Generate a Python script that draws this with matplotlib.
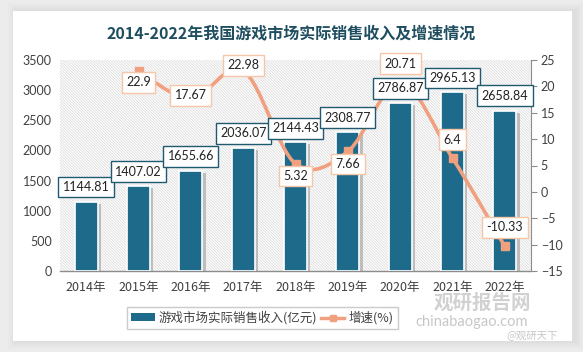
import matplotlib
matplotlib.use("Agg")
import matplotlib.pyplot as plt
import matplotlib.patheffects as pe
from matplotlib.path import Path
from matplotlib.patches import PathPatch, Rectangle
from matplotlib.lines import Line2D
import numpy as np

plt.rcParams['font.family'] = ['Lato', 'Noto Sans CJK SC', 'DejaVu Sans']
plt.rcParams['hatch.linewidth'] = 0.5
plt.rcParams['hatch.color'] = '#d6d6d6'

years = ['2014年', '2015年', '2016年', '2017年', '2018年', '2019年', '2020年', '2021年', '2022年']
revenue = [1144.81, 1407.02, 1655.66, 2036.07, 2144.43, 2308.77, 2786.87, 2965.13, 2658.84]
growth_years = ['2015年', '2016年', '2017年', '2018年', '2019年', '2020年', '2021年', '2022年']
growth = [22.9, 17.67, 22.98, 5.32, 7.66, 20.71, 6.4, -10.33]

title = '2014-2022年我国游戏市场实际销售收入及增速情况'
bar_name = '游戏市场实际销售收入(亿元)'
line_name = '增速(%)'

bar_color = '#1d6a8b'
line_color = '#f0a07e'
text_color = '#404040'

W, H = 583, 352
fig = plt.figure(figsize=(W / 100, H / 100), dpi=100)
fig.patch.set_facecolor('#ececec')

# white panel with soft shadow
for i, a in enumerate([0.25, 0.35, 0.5, 0.7]):
    d = (4 - i) * 2
    fig.patches.append(Rectangle(((13 - d + 3) / W, (11 - d) / H), (559 + 2 * d) / W, (330 + 2 * d) / H,
                                 transform=fig.transFigure, facecolor='#d9d9d9', edgecolor='none',
                                 alpha=a * 0.5, zorder=0))
fig.patches.append(Rectangle((13 / W, 11 / H), 559 / W, 330 / H, transform=fig.transFigure,
                             facecolor='white', edgecolor='none', zorder=0.5))

ax = fig.add_axes([60 / W, 1 - 271 / H, (531 - 60) / W, (271 - 60) / H])
ax.set_zorder(1)
ax.patch.set_facecolor('white')
ax.patch.set_hatch('\\' * 12)
ax.patch.set_edgecolor('#d6d6d6')
ax.patch.set_linewidth(0)

x = np.arange(len(years))
bars = ax.bar(x, revenue, width=0.44, color=bar_color, edgecolor='white', linewidth=1.2, zorder=3)
for b in bars:
    b.set_path_effects([pe.SimplePatchShadow(offset=(2.5, -1.5), shadow_rgbFace='#808080', alpha=0.45),
                        pe.Normal()])

ax.set_xlim(-0.5, len(years) - 0.5)
ax.set_ylim(0, 3500)
ax.set_yticks(np.arange(0, 3501, 500))
ax.set_xticks(x)
ax.set_xticklabels(years, fontsize=9, color=text_color, family=['Noto Sans CJK SC'])
ax.tick_params(axis='x', length=0, pad=7)
ax.tick_params(axis='y', length=0, labelsize=9, labelcolor=text_color, pad=6)
for s in ['top', 'left', 'right']:
    ax.spines[s].set_visible(False)
ax.spines['bottom'].set_color('#8c8c8c')
ax.spines['bottom'].set_linewidth(1)

ax2 = ax.twinx()
ax2.set_ylim(-15, 25)
ax2.set_yticks(np.arange(-15, 26, 5))
ax2.tick_params(axis='y', length=4, width=0.8, color='#8c8c8c', labelsize=9, labelcolor=text_color, pad=3)
for s in ['top', 'left', 'bottom']:
    ax2.spines[s].set_visible(False)
ax2.spines['right'].set_color('#8c8c8c')

# smoothed growth line (Catmull-Rom bezier through data points)
gx = np.array([years.index(y) for y in growth_years], dtype=float)
gy = np.array(growth, dtype=float)
pts = np.column_stack([gx, gy])
verts = [pts[0]]
codes = [Path.MOVETO]
n = len(pts)
for i in range(n - 1):
    p0 = pts[i - 1] if i > 0 else pts[i]
    p1 = pts[i]
    p2 = pts[i + 1]
    p3 = pts[i + 2] if i + 2 < n else pts[i + 1]
    c1 = p1 + (p2 - p0) / 6
    c2 = p2 - (p3 - p1) / 6
    verts += [c1, c2, p2]
    codes += [Path.CURVE4] * 3
ax2.add_patch(PathPatch(Path(verts, codes), facecolor='none', edgecolor=line_color, lw=2.6,
                        zorder=4, capstyle='round'))
ax2.plot(gx, gy, linestyle='none', marker='s', markersize=6, color=line_color, zorder=5)

# growth labels (right axis units)
growth_label_pos = [(1, 20.8), (2, 18.3), (3, 24.0), (4, 3.0), (5, 5.3), (6, 24.3), (7, 9.9), (8, -6.7)]
for (xi, yi), v in zip(growth_label_pos, growth):
    ax2.text(xi, yi, f'{v:g}', ha='center', va='center', fontsize=9, color='#222222', zorder=11,
             bbox=dict(boxstyle='square,pad=0.35', facecolor='white', edgecolor='#f5c6a8', linewidth=1))

# bar labels (drawn on top axes so the line passes beneath them)
bar_label_pos = [(0, 1395), (1, 1650), (2, 1905), (3, 2285), (4, 2365), (5, 2540), (6, 3030), (7, 3200), (8, 2905)]
for (xi, yi), v in zip(bar_label_pos, revenue):
    ax2.text(xi, yi, f'{v:.2f}', transform=ax.transData, ha='center', va='center', fontsize=9,
             color='#222222', zorder=10,
             bbox=dict(boxstyle='square,pad=0.35', facecolor='white', edgecolor='#1f5a70', linewidth=1))

fig.text(0.5, 1 - 33 / H, title, ha='center', va='center', fontsize=11.5, fontweight='bold',
         color='#1f4e60', family=['Noto Sans CJK SC'])

# legend
handles = [Rectangle((0, 0), 1, 1, facecolor=bar_color, edgecolor='none'),
           Line2D([0], [0], color=line_color, lw=2.5, marker='s', markersize=5)]
leg = fig.legend(handles, [bar_name, line_name], loc='center', bbox_to_anchor=(262 / W, 1 - 318 / H),
                 ncol=2, frameon=True, fancybox=False, edgecolor='#bfbfbf',
                 prop={'family': ['Noto Sans CJK SC'], 'size': 9},
                 handlelength=1.9, handleheight=0.6, columnspacing=0.3, handletextpad=0.3,
                 borderpad=0.35, borderaxespad=0)
leg.set_zorder(5)
for t in leg.get_texts():
    t.set_color(text_color)

# watermark
fig.text(482 / W, 1 - 303 / H, '观研报告网', ha='center', va='center', fontsize=14, fontweight='bold',
         color='#9a9a9a', alpha=0.45, family=['Noto Sans CJK SC'], zorder=20)
fig.text(472 / W, 1 - 322 / H, 'chinabaogao.com', ha='center', va='center', fontsize=10.5,
         color='#9a9a9a', alpha=0.55, zorder=20)
fig.text(532 / W, 1 - 335 / H, '@观研天下', ha='center', va='center', fontsize=7.5,
         color='#b0b0b0', alpha=0.7, family=['Noto Sans CJK SC'], zorder=20)

fig.savefig('out.png', dpi=100, facecolor=fig.get_facecolor())
